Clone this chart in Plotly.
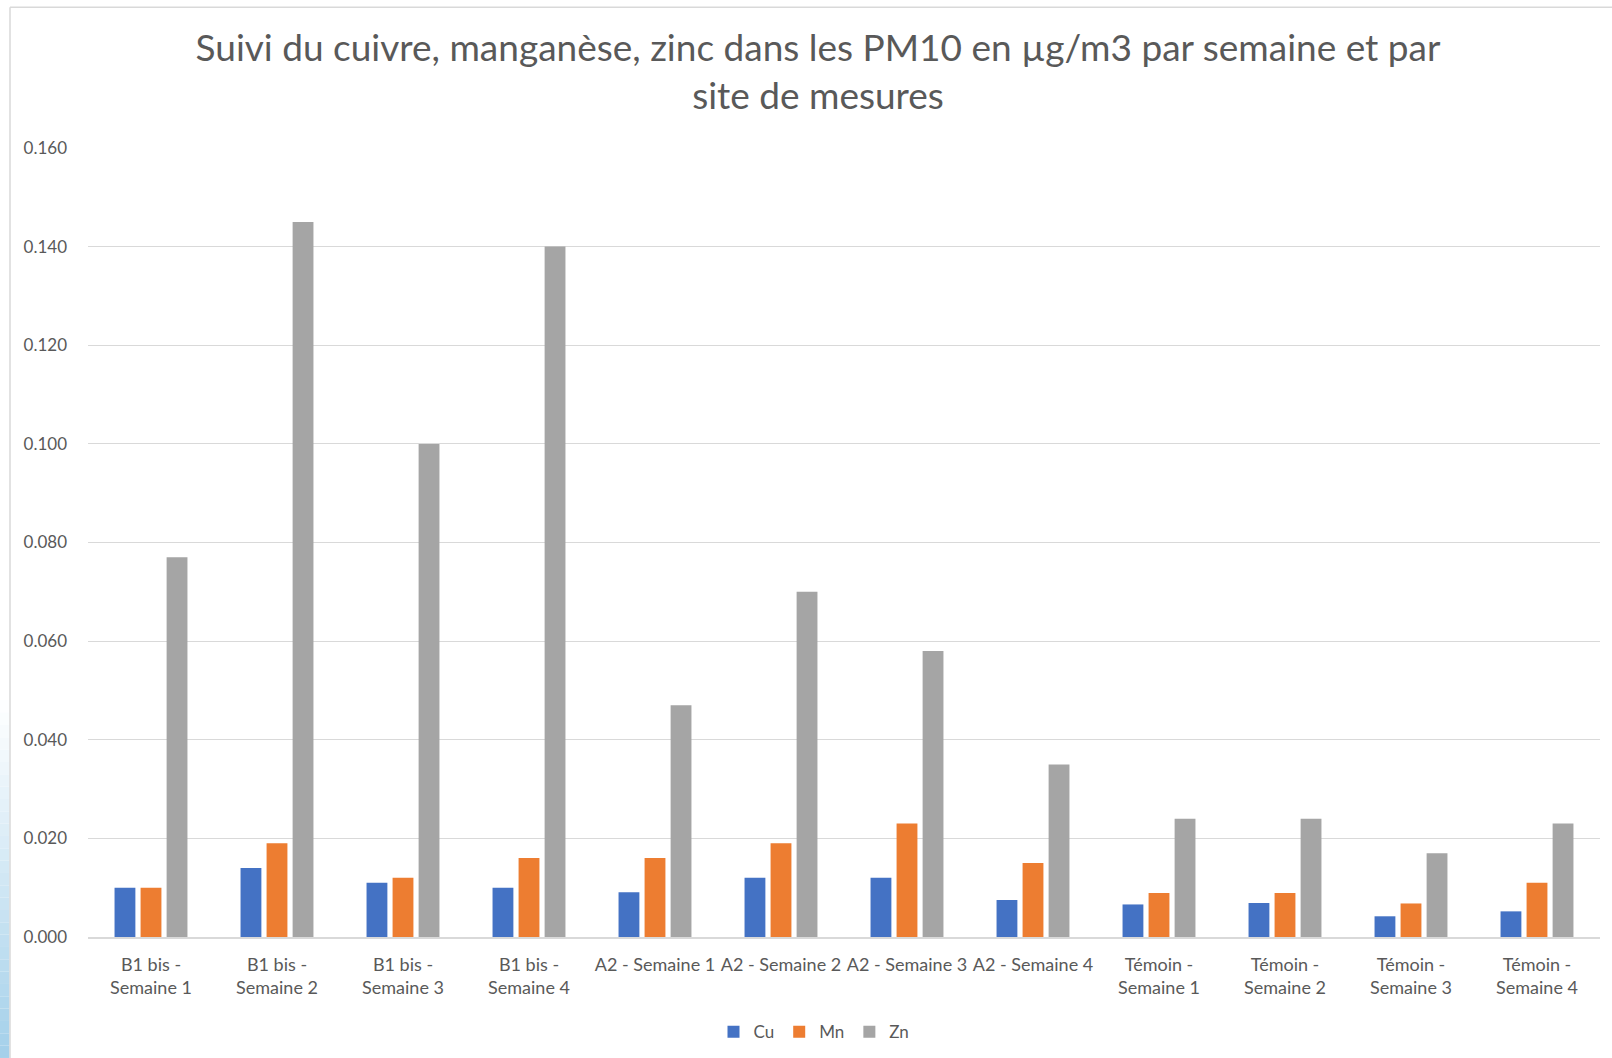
import plotly.graph_objects as go

categories = [
    "B1 bis -<br>Semaine 1", "B1 bis -<br>Semaine 2", "B1 bis -<br>Semaine 3", "B1 bis -<br>Semaine 4",
    "A2 - Semaine 1", "A2 - Semaine 2", "A2 - Semaine 3", "A2 - Semaine 4",
    "Témoin -<br>Semaine 1", "Témoin -<br>Semaine 2", "Témoin -<br>Semaine 3", "Témoin -<br>Semaine 4",
]
cu = [0.010, 0.014, 0.011, 0.010, 0.0091, 0.012, 0.012, 0.0075, 0.0066, 0.0069, 0.0042, 0.0052]
mn = [0.010, 0.019, 0.012, 0.016, 0.016, 0.019, 0.023, 0.015, 0.0089, 0.0089, 0.0068, 0.011]
zn = [0.077, 0.145, 0.100, 0.140, 0.047, 0.070, 0.058, 0.035, 0.024, 0.024, 0.017, 0.023]
series_names = ["Cu", "Mn", "Zn"]
series_colors = ["#4472c4", "#ed7d31", "#a5a5a5"]
y_ticks = [0.0, 0.02, 0.04, 0.06, 0.08, 0.10, 0.12, 0.14, 0.16]

W, H = 1612, 1058
L, R, T, B = 88, 1600, 147.7, 936.7

def px_x(p):
    return (p - L) / (R - L)

def px_y(p):
    return (B - p) / (B - T)

FONT = "Lato"
GREY = "#595959"

fig = go.Figure()
for name, vals, col in zip(series_names, [cu, mn, zn], series_colors):
    fig.add_trace(go.Bar(x=categories, y=vals, name=name, marker=dict(color=col, line=dict(width=0))))

shapes = []
# left gradient strip (window background)
n = 30
y0p, y1p = 700, 1070
c0 = (255, 255, 255)
c1 = (160, 206, 233)
for i in range(n):
    a = y0p + (y1p - y0p) * i / n
    b = y0p + (y1p - y0p) * (i + 1) / n
    t = (i + 0.5) / n
    c = tuple(int(round(c0[k] + (c1[k] - c0[k]) * t)) for k in range(3))
    shapes.append(dict(type="rect", xref="paper", yref="paper",
                       x0=px_x(-5), x1=px_x(9.5), y0=px_y(b), y1=px_y(a),
                       fillcolor="rgb(%d,%d,%d)" % c, line=dict(width=0), layer="below"))
# chart frame
shapes.append(dict(type="line", xref="paper", yref="paper", x0=px_x(10), x1=px_x(1620),
                   y0=px_y(7), y1=px_y(7), line=dict(color="#d9d9d9", width=1.5)))
shapes.append(dict(type="line", xref="paper", yref="paper", x0=px_x(10), x1=px_x(10),
                   y0=px_y(7), y1=px_y(1070), line=dict(color="#d9d9d9", width=1.5)))

fig.update_layout(
    width=W, height=H,
    margin=dict(l=L, r=W - R, t=T, b=H - B, pad=0, autoexpand=False),
    paper_bgcolor="white", plot_bgcolor="white",
    font=dict(family=FONT, color=GREY, size=17),
    title=dict(
        text="Suivi du cuivre, manganèse, zinc dans les PM10 en µg/m3 par semaine et par<br>site de mesures",
        x=px_x(818), xref="paper", xanchor="center",
        y=1 - 61 / H, yref="container", yanchor="top",
        font=dict(family=FONT, size=37, color=GREY),
    ),
    barmode="group", bargap=0.38, bargroupgap=0.2,
    showlegend=True,
    legend=dict(orientation="h", x=px_x(814), xanchor="center", y=px_y(1032), yanchor="middle",
                font=dict(family=FONT, size=17, color=GREY), bgcolor="rgba(0,0,0,0)",
                itemwidth=30, traceorder="normal"),
    shapes=shapes,
)
fig.update_yaxes(range=[0, 0.16], tickvals=y_ticks, tickformat=".3f", automargin=False,
                 showgrid=True, gridcolor="#d9d9d9", gridwidth=1.3,
                 zeroline=False, showline=False, ticks="", ticklabelstandoff=20,
                 tickfont=dict(family=FONT, size=17, color=GREY), fixedrange=True)
fig.update_xaxes(showline=True, linecolor="#d9d9d9", linewidth=2, ticks="", automargin=False,
                 ticklabelstandoff=10, tickangle=0,
                 tickfont=dict(family=FONT, size=18, color=GREY), fixedrange=True)

fig.write_html("out.html", config={"displayModeBar": False},
               post_script="document.body.style.margin='0';")
